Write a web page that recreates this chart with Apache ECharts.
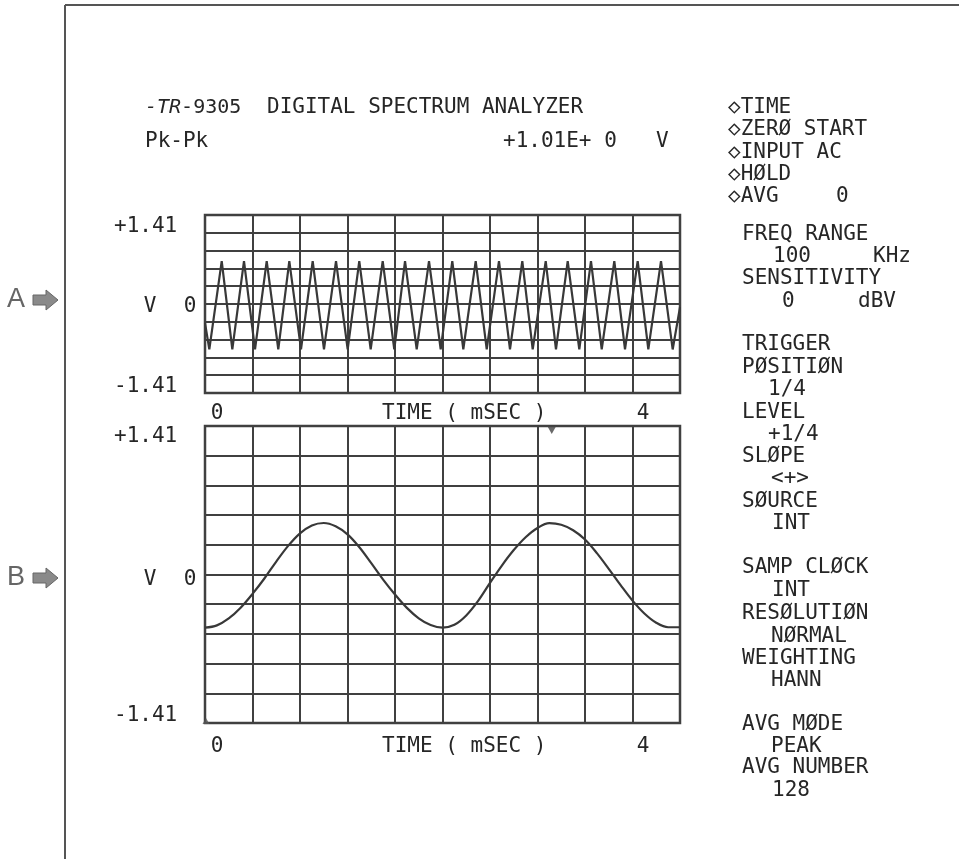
<!DOCTYPE html>
<html><head><meta charset="utf-8">
<script src="https://cdn.jsdelivr.net/npm/echarts@6/dist/echarts.min.js"></script>
<style>html,body{margin:0;padding:0;background:#fff}#c{width:959px;height:859px}</style>
</head><body><div id="c"></div>
<script>
// ---------- data ----------
const instrumentTitle = ['-TR-9305', 'DIGITAL SPECTRUM ANALYZER'];
const measurement = ['Pk-Pk', '+1.01E+ 0', 'V'];
const statusFlags = ['◇TIME', '◇ZERØ START', '◇INPUT AC', '◇HØLD', '◇AVG', '0'];
const settingsText = ['FREQ RANGE', '100', 'KHz', 'SENSITIVITY', '0', 'dBV',
  'TRIGGER', 'PØSITIØN', '1/4', 'LEVEL', '+1/4', 'SLØPE', '<+>', 'SØURCE', 'INT',
  'SAMP CLØCK', 'INT', 'RESØLUTIØN', 'NØRMAL', 'WEIGHTING', 'HANN',
  'AVG MØDE', 'PEAK', 'AVG NUMBER', '128'];
const yTickLabels = ['+1.41', '-1.41'];
const yUnitLabels = ['V', '0'];
const xTickLabels = ['0', 'TIME ( mSEC )', '4'];
const traceLabels = ['A', 'B'];
const vMax = 1.41;
const xDivisions = 10;

// trace A: triangle wave vertices (x in screen divisions, y in V)
const triangleX = [0, 0.091, 0.352, 0.575, 0.821, 1.053, 1.299, 1.543, 1.775, 2.021, 2.267, 2.505, 2.758,
  3.004, 3.248, 3.488, 3.741, 3.985, 4.211, 4.457, 4.716, 4.962, 5.206, 5.438, 5.699, 5.931, 6.189,
  6.421, 6.680, 6.899, 7.173, 7.389, 7.636, 7.880, 8.126, 8.352, 8.617, 8.842, 9.109, 9.333, 9.600, 9.846, 10];
const triangleY = [-0.30, -0.72, 0.68, -0.72, 0.68, -0.72, 0.68, -0.72, 0.68, -0.72, 0.68, -0.72, 0.68,
  -0.72, 0.68, -0.72, 0.68, -0.72, 0.68, -0.72, 0.68, -0.72, 0.68, -0.72, 0.68, -0.72, 0.68,
  -0.72, 0.68, -0.72, 0.68, -0.72, 0.68, -0.72, 0.68, -0.72, 0.68, -0.72, 0.68, -0.72, 0.68, -0.72, -0.05];

// trace B: sine-like wave sampled every 0.25 division
const sineX = [0, 0.25, 0.5, 0.75, 1, 1.25, 1.5, 1.75, 2, 2.25, 2.5, 2.75, 3, 3.25, 3.5, 3.75, 4, 4.25, 4.5, 4.75,
  5, 5.25, 5.5, 5.75, 6, 6.25, 6.5, 6.75, 7, 7.25, 7.5, 7.75, 8, 8.25, 8.5, 8.75, 9, 9.25, 9.5, 9.75, 10];
const sineY = [-0.505, -0.483, -0.417, -0.315, -0.184, -0.038, 0.123, 0.272, 0.391, 0.466, 0.489, 0.458, 0.381,
  0.259, 0.108, -0.048, -0.190, -0.317, -0.416, -0.480, -0.505, -0.478, -0.389, -0.251, -0.080, 0.085,
  0.232, 0.354, 0.442, 0.487, 0.472, 0.420, 0.332, 0.203, 0.054, -0.101, -0.248, -0.370, -0.458, -0.501, -0.501];

const triggerPos = [7.3];
const startMark = [0];

// ---------- layout / style ----------
const INK = '#262626';
const LINE = '#404040';
const MONO = '"DejaVu Sans Mono", monospace';
const FS = 21;

function txt(s, x, y, align, extra) {
  return {
    type: 'text', x: x, y: y, silent: true,
    style: Object.assign({ text: s, fill: INK, font: FS + 'px ' + MONO, align: align || 'left', verticalAlign: 'middle' }, extra || {})
  };
}

const g = [];
// frame lines
g.push({ type: 'line', shape: { x1: 65, y1: 5, x2: 959, y2: 5 }, style: { stroke: '#555', lineWidth: 2 } });
g.push({ type: 'line', shape: { x1: 65, y1: 5, x2: 65, y2: 859 }, style: { stroke: '#555', lineWidth: 2 } });

// header
g.push({
  type: 'text', x: 145, y: 108, silent: true,
  style: {
    text: '{i|-TR}{n|-9305}', fill: INK, verticalAlign: 'middle',
    rich: {
      i: { fontStyle: 'italic', fontFamily: MONO, fontSize: 20, fill: INK },
      n: { fontFamily: MONO, fontSize: 20, fill: INK }
    }
  }
});
g.push(txt(instrumentTitle[1], 267, 108));
g.push(txt(measurement[0], 145, 142));
g.push(txt(measurement[1], 503, 142));
g.push(txt(measurement[2], 656, 142));

// status flags
const flagY = [108, 130, 153, 175, 197];
for (let i = 0; i < 5; i++) g.push(txt(statusFlags[i], 728, flagY[i]));
g.push(txt(statusFlags[5], 836, 197));

// settings panel positions
const setPos = [[742, 235], [773, 257], [873, 257], [742, 279], [782, 302], [858, 302],
  [742, 345], [742, 368], [768, 390], [742, 413], [768, 435], [742, 457], [771, 479], [742, 502], [772, 524],
  [742, 568], [772, 591], [742, 614], [771, 637], [742, 659], [771, 681],
  [742, 725], [771, 747], [742, 768], [772, 791]];
settingsText.forEach((s, i) => g.push(txt(s, setPos[i][0], setPos[i][1])));

// axis labels for both panels
const panels = [{ top: 227, mid: 307, bot: 387, xl: 414 }, { top: 437, mid: 580, bot: 716, xl: 747 }];
panels.forEach(p => {
  g.push(txt(yTickLabels[0], 114, p.top));
  g.push(txt(yUnitLabels[0], 150, p.mid, 'center'));
  g.push(txt(yUnitLabels[1], 190, p.mid, 'center'));
  g.push(txt(yTickLabels[1], 114, p.bot));
  g.push(txt(xTickLabels[0], 217, p.xl, 'center'));
  g.push(txt(xTickLabels[1], 382, p.xl));
  g.push(txt(xTickLabels[2], 643, p.xl, 'center'));
});

// A / B arrows
[[300, traceLabels[0]], [578, traceLabels[1]]].forEach(([cy, lab]) => {
  g.push({ type: 'text', x: 16, y: cy, silent: true,
    style: { text: lab, fill: '#666', font: '27px "Liberation Sans", Arial, sans-serif', align: 'center', verticalAlign: 'middle' } });
  g.push({ type: 'polygon', silent: true,
    shape: { points: [[33, cy - 5], [46, cy - 5], [46, cy - 10], [58, cy], [46, cy + 10], [46, cy + 5], [33, cy + 5]] },
    style: { fill: '#8a8a8a', stroke: '#666', lineWidth: 1 } });
});

function xAx(gi) {
  return {
    type: 'value', gridIndex: gi, min: 0, max: xDivisions, interval: 1,
    axisLine: { show: false }, axisTick: { show: false }, axisLabel: { show: false },
    splitLine: { show: true, lineStyle: { color: LINE, width: 2 } }
  };
}
function yAx(gi) {
  return {
    type: 'value', gridIndex: gi, min: -vMax, max: vMax, interval: vMax / 5,
    axisLine: { show: false }, axisTick: { show: false }, axisLabel: { show: false },
    splitLine: { show: true, lineStyle: { color: LINE, width: 2 } }
  };
}

const option = {
  animation: false,
  backgroundColor: '#fff',
  grid: [
    { left: 205, top: 215, width: 475, height: 178, show: true, borderColor: LINE, borderWidth: 2.5, backgroundColor: 'transparent' },
    { left: 205, top: 426, width: 475, height: 297, show: true, borderColor: LINE, borderWidth: 2.5, backgroundColor: 'transparent' }
  ],
  xAxis: [xAx(0), xAx(1)],
  yAxis: [yAx(0), yAx(1)],
  series: [
    {
      type: 'line', xAxisIndex: 0, yAxisIndex: 0, symbol: 'none',
      data: triangleX.map((x, i) => [x, triangleY[i]]),
      lineStyle: { color: '#383838', width: 2.2 }
    },
    {
      type: 'line', xAxisIndex: 1, yAxisIndex: 1, symbol: 'none', smooth: 0.35,
      data: sineX.map((x, i) => [x, sineY[i]]),
      lineStyle: { color: '#383838', width: 2.2 }
    },
    {
      type: 'scatter', xAxisIndex: 1, yAxisIndex: 1, symbol: 'triangle', symbolRotate: 180,
      symbolSize: [9, 8], symbolOffset: [0, 4], clip: false,
      data: triggerPos.map(x => [x, vMax]), itemStyle: { color: '#444' }
    },
    {
      type: 'scatter', xAxisIndex: 1, yAxisIndex: 1, symbol: 'triangle',
      symbolSize: [7, 6], symbolOffset: [1, -2], clip: false,
      data: startMark.map(x => [x, -vMax]), itemStyle: { color: '#555' }
    }
  ],
  graphic: g
};

const chart = echarts.init(document.getElementById('c'), null, { renderer: 'canvas' });
chart.setOption(option);
</script>
</body></html>
